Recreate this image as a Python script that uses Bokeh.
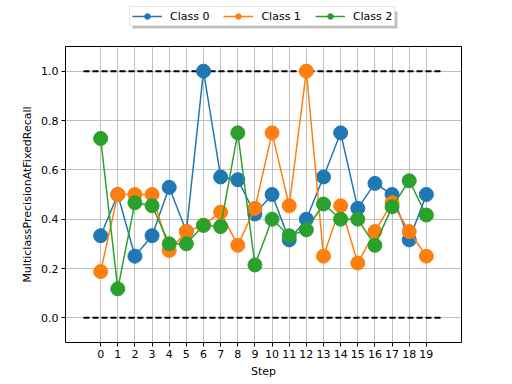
from bokeh.plotting import figure
from bokeh.layouts import column
from bokeh.models import Range1d, FixedTicker, PrintfTickFormatter, Legend, LegendItem, BoxAnnotation
from bokeh.embed import file_html
from bokeh.resources import INLINE

steps = list(range(20))
class0 = [0.333, 0.5, 0.25, 0.333, 0.529, 0.35, 1.0, 0.571, 0.56, 0.421, 0.5, 0.316, 0.4, 0.571, 0.75, 0.444, 0.545, 0.5, 0.316, 0.5]
class1 = [0.1875, 0.5, 0.5, 0.5, 0.273, 0.35, 0.375, 0.4286, 0.294, 0.444, 0.75, 0.4545, 1.0, 0.25, 0.4545, 0.222, 0.35, 0.4667, 0.35, 0.25]
class2 = [0.727, 0.1176, 0.4667, 0.4545, 0.3, 0.3, 0.375, 0.37, 0.75, 0.2143, 0.4, 0.333, 0.357, 0.4615, 0.4, 0.4, 0.294, 0.45, 0.5556, 0.4167]
names = ["Class 0", "Class 1", "Class 2"]
colors = ["#1f77b4", "#ff7f0e", "#2ca02c"]
bound_x = [-1, 20]
y_ticks = [0.0, 0.2, 0.4, 0.6, 0.8, 1.0]

# ---- legend strip (top); its frame aligns with the main plot's frame (x 65..461) ----
lg = figure(width=512, height=40, output_backend="svg", toolbar_location=None,
            x_range=Range1d(65, 461), y_range=Range1d(40, 0),
            x_axis_location=None, y_axis_location=None,
            min_border_left=0, min_border_right=0, min_border_top=0, min_border_bottom=0)
lg.outline_line_color = None
lg.xgrid.visible = False
lg.ygrid.visible = False
lg.add_layout(BoxAnnotation(left=132, right=397, top=11, bottom=28,
                            fill_color="#7f7f7f", fill_alpha=0.5, line_color=None))

# ---- main plot ----
p = figure(width=512, height=344, output_backend="svg", toolbar_location=None,
           x_range=Range1d(-2.05, 21.05), y_range=Range1d(-0.1, 1.1),
           min_border_left=65, min_border_right=51, min_border_top=6, min_border_bottom=42)

p.outline_line_color = "black"
p.outline_line_width = 1
for g in (p.xgrid[0], p.ygrid[0]):
    g.grid_line_color = "#b0b0b0"
    g.grid_line_width = 0.8

p.xaxis.ticker = FixedTicker(ticks=steps)
p.yaxis.ticker = FixedTicker(ticks=y_ticks)
p.yaxis.formatter = PrintfTickFormatter(format="%.1f")
for ax in (p.xaxis[0], p.yaxis[0]):
    ax.axis_line_color = None
    ax.major_tick_line_color = "black"
    ax.major_tick_out = 4
    ax.major_tick_in = 0
    ax.minor_tick_line_color = None
    ax.major_label_text_font = "DejaVu Sans"
    ax.major_label_text_font_size = "11px"
    ax.major_label_text_color = "black"
    ax.axis_label_text_font = "DejaVu Sans"
    ax.axis_label_text_font_size = "11px"
    ax.axis_label_text_font_style = "normal"
    ax.axis_label_text_color = "black"
    ax.axis_label_standoff = 4
    ax.major_label_standoff = 3
p.xaxis.axis_label = "Step"
p.yaxis.axis_label = "MulticlassPrecisionAtFixedRecall"

p.line(bound_x, [1, 1], line_color="black", line_width=2, line_dash="6 3")
p.line(bound_x, [0, 0], line_color="black", line_width=2, line_dash="6 3")

items = []
for name, ys, c in zip(names, [class0, class1, class2], colors):
    p.line(steps, ys, line_color=c, line_width=1.5)
    p.scatter(steps, ys, size=14, fill_color=c, line_color=c)
    # hidden legend proxies living in the legend strip
    l = lg.line(steps[:2], ys[:2], line_color=c, line_width=1.5, visible=False)
    s = lg.scatter(steps[:2], ys[:2], size=14, fill_color=c, line_color=c, visible=False)
    items.append(LegendItem(label=name, renderers=[l, s]))

legend = Legend(items=items, orientation="horizontal", location=(64, 14),
                label_text_font="DejaVu Sans", label_text_font_size="11px",
                label_text_color="black",
                glyph_width=30, glyph_height=14, spacing=14, padding=2, margin=0,
                label_standoff=8, border_line_color="#cccccc", border_line_width=1,
                background_fill_color="white", background_fill_alpha=1.0,
                inactive_fill_alpha=0.0)
lg.add_layout(legend, "center")

layout = column(lg, p, spacing=0)
open("out.html", "w").write(file_html(layout, INLINE))
